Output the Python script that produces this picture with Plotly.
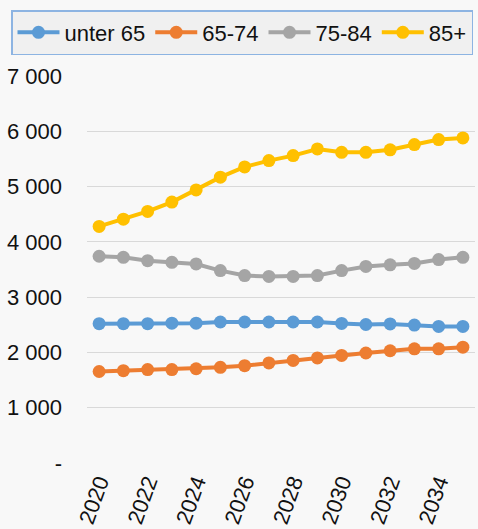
import plotly.graph_objects as go

years = list(range(2020, 2036))
unter_65 = [2520, 2520, 2520, 2530, 2530, 2550, 2550, 2550, 2550, 2550, 2525, 2505, 2515, 2495, 2470, 2470]
s65_74 = [1655, 1670, 1690, 1690, 1705, 1730, 1760, 1810, 1855, 1900, 1945, 1990, 2030, 2065, 2065, 2095]
s75_84 = [3740, 3720, 3660, 3630, 3600, 3480, 3390, 3375, 3375, 3390, 3480, 3555, 3585, 3610, 3680, 3720]
s85 = [4280, 4410, 4550, 4720, 4940, 5170, 5355, 5470, 5560, 5680, 5620, 5620, 5665, 5760, 5850, 5880]

names = ["unter 65", "65-74", "75-84", "85+"]
colors = ["#5b9bd5", "#ed7d31", "#a5a5a5", "#ffc000"]
series = [unter_65, s65_74, s75_84, s85]

y_tickvals = [0, 1000, 2000, 3000, 4000, 5000, 6000, 7000]
y_ticktext = ["-", "1 000", "2 000", "3 000", "4 000", "5 000", "6 000", "7 000"]
x_tickvals = [2020, 2022, 2024, 2026, 2028, 2030, 2032, 2034]

fig = go.Figure()
for n, c, s in zip(names, colors, series):
    fig.add_trace(go.Scatter(x=years, y=s, name=n, mode="lines+markers",
                             line=dict(color=c, width=4),
                             marker=dict(color=c, size=13)))

W, H, L, R, T, B = 478, 529, 87, 3, 75, 65
plot_h = H - T - B
plot_w = W - L - R

fig.update_layout(
    width=W, height=H,
    paper_bgcolor="#f8f8f8", plot_bgcolor="#f8f8f8",
    margin=dict(l=L, r=R, t=T, b=B, autoexpand=False),
    font=dict(family="Liberation Sans, Arial, sans-serif", size=22, color="#111111"),
    showlegend=True,
    legend=dict(orientation="h", xref="paper", yref="paper",
                x=(11 - L) / plot_w, y=1 + (T - 10) / plot_h, xanchor="left", yanchor="top",
                bgcolor="#f0f0f0", bordercolor="#8db4e2", borderwidth=1.5,
                font=dict(size=22), itemwidth=42, tracegroupgap=0),
    xaxis=dict(range=[2019.5, 2035.5], tickvals=x_tickvals, tickangle=-70,
               showgrid=False, zeroline=False, showline=False, ticks="",
               tickfont=dict(size=22), automargin=False),
    yaxis=dict(range=[-18, 7018], tickvals=y_tickvals, ticktext=y_ticktext,
               showgrid=True, gridcolor="#d9d9d9", gridwidth=1,
               zeroline=False, showline=False, ticks="", ticklabelstandoff=24,
               tickfont=dict(size=22), automargin=False),
)

fig.write_html("out.html", config={"displayModeBar": False},
               post_script="document.body.style.margin='0';document.body.style.padding='0';")
